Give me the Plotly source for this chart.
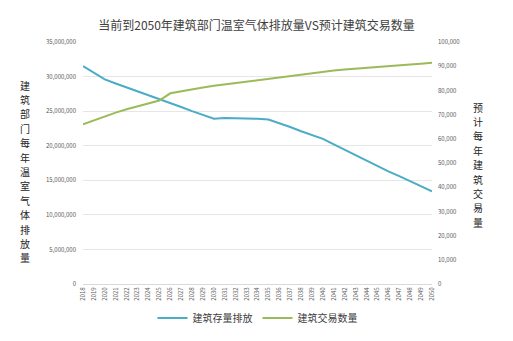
import plotly.graph_objects as go

years = [str(y) for y in range(2018, 2051)]
emissions = [31500000, 30500000, 29600000, 29000000, 28450000, 27900000, 27300000, 26750000,
             26150000, 25600000, 25000000, 24450000, 23900000, 24000000, 24000000, 23950000,
             23900000, 23800000, 23300000, 22700000, 22100000, 21600000, 21000000, 20200000,
             19400000, 18600000, 17800000, 17000000, 16300000, 15600000, 14900000, 14200000,
             13400000]
transactions = [66000, 67700, 69300, 70800, 72200, 73500, 74700, 75800, 78800, 79700, 80500,
                81200, 81900, 82500, 83100, 83700, 84300, 84900, 85500, 86100, 86700, 87200,
                87700, 88200, 88600, 89000, 89400, 89800, 90100, 90400, 90700, 91000, 91400]

title = "当前到2050年建筑部门温室气体排放量VS预计建筑交易数量"
left_title = "建筑部门每年温室气体排放量"
right_title = "预计每年建筑交易量"
series_names = ["建筑存量排放", "建筑交易数量"]

FONT = "Noto Sans CJK SC"

fig = go.Figure()
fig.add_trace(go.Scatter(x=years, y=emissions, mode="lines", name=series_names[0],
                         line=dict(color="#4BACC6", width=2), yaxis="y"))
fig.add_trace(go.Scatter(x=years, y=transactions, mode="lines", name=series_names[1],
                         line=dict(color="#9BBB59", width=2), yaxis="y2"))

fig.update_layout(
    width=513, height=341,
    margin=dict(l=83, r=81, t=42, b=57, autoexpand=False),
    paper_bgcolor="white", plot_bgcolor="white",
    font=dict(family=FONT, color="#595959"),
    title=dict(text=title, x=0.5, xanchor="center", y=1 - 26/341, yanchor="middle",
               yref="container", font=dict(size=12, color="#404040", family=FONT)),
    xaxis=dict(type="category", tickangle=-90, tickfont=dict(size=6, color="#595959"),
               showgrid=False, showline=True, linecolor="#D9D9D9", ticks="", automargin=False),
    yaxis=dict(range=[0, 35000000], dtick=5000000, tickformat=",", showgrid=True,
               gridcolor="#E6E6E6", gridwidth=1, zeroline=False, automargin=False,
               tickfont=dict(size=6, color="#595959"), ticks="", ticklabelstandoff=6),
    yaxis2=dict(range=[0, 100000], dtick=10000, tickformat=",", overlaying="y", side="right",
                showgrid=False, zeroline=False, tickfont=dict(size=6, color="#595959"),
                ticks="", ticklabelstandoff=5, automargin=False),
    showlegend=True,
    legend=dict(orientation="h", x=0.5, xanchor="center", yref="container",
                y=1 - 318/341, yanchor="middle",
                font=dict(size=10, color="#404040"), itemwidth=30),
)

# vertical stacked axis titles, one character per line
plot_bottom, plot_h = 284, 242
def stack(text, xpaper, first_center_px, step_px):
    for i, ch in enumerate(text):
        ypx = first_center_px + i * step_px
        fig.add_annotation(text=ch, xref="paper", yref="paper", x=xpaper,
                           y=(plot_bottom - ypx) / plot_h, showarrow=False,
                           xanchor="center", yanchor="middle", borderpad=0,
                           font=dict(size=10, color="#262626", family=FONT))

stack(left_title, -0.166, 85, 14.4)
stack(right_title, 1.132, 107, 14.4)

fig.write_html("out.html")
